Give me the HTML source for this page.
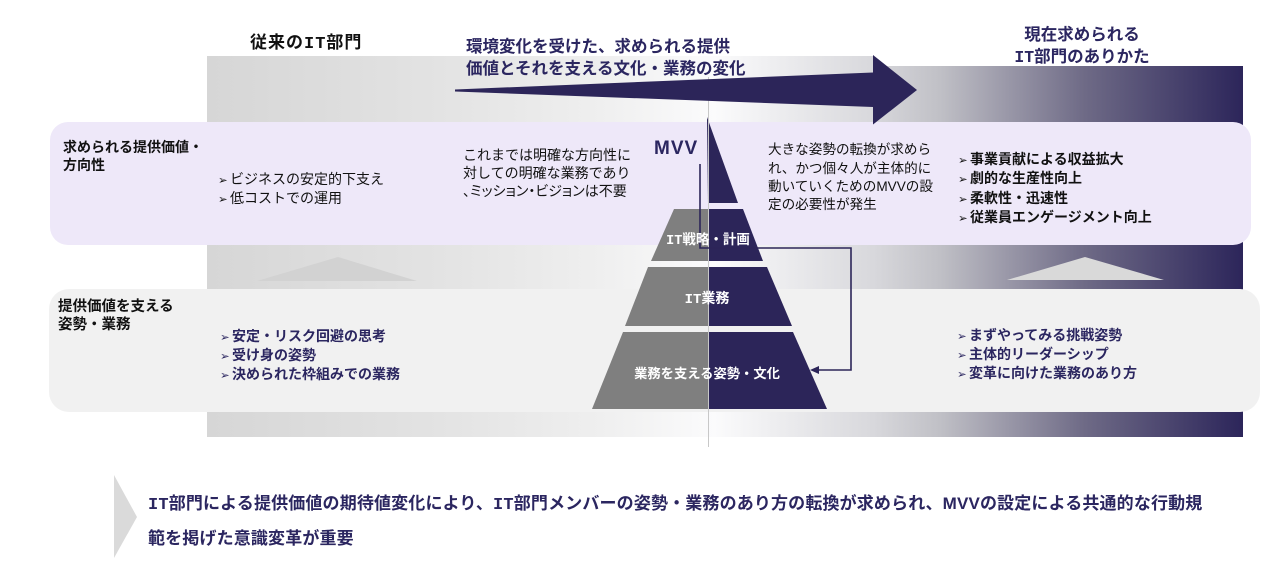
<!DOCTYPE html>
<html><head><meta charset="utf-8">
<style>
html,body{margin:0;padding:0;background:#fff;}
#c{position:relative;width:1280px;height:580px;overflow:hidden;background:#fff;font-family:"Liberation Sans","Noto Sans CJK JP",sans-serif;}
.t{position:absolute;white-space:nowrap;line-height:20px;}
.bd{font-weight:bold;}
.nv{color:#2b2660;}
.bk{color:#111;}
.it{font-family:"Liberation Mono","Noto Sans CJK JP",monospace;}
.ar{display:inline-block;width:12px;font-family:"DejaVu Sans",sans-serif;font-size:11.5px;vertical-align:0px;}
.ctr{text-align:center;}
</style></head>
<body><div id="c">
<svg width="1280" height="580" style="position:absolute;left:0;top:0">
<defs>
<linearGradient id="band" gradientUnits="userSpaceOnUse" x1="207" y1="0" x2="1243" y2="0">
<stop offset="0" stop-color="#d6d6d6"/>
<stop offset="0.225" stop-color="#e3e3e3"/>
<stop offset="0.38" stop-color="#efefef"/>
<stop offset="0.49" stop-color="#fbfbfc"/>
<stop offset="0.643" stop-color="#d8d8dc"/>
<stop offset="0.7075" stop-color="#c0c0c6"/>
<stop offset="0.8475" stop-color="#6e6a86"/>
<stop offset="1" stop-color="#2c255a"/>
</linearGradient>
</defs>
<path d="M207 56 H873 V66 H1243 V437 H207 Z" fill="url(#band)"/>
<polygon points="257,281 338,257 417,281" fill="#d2d2d2"/>
<polygon points="1007,280 1085,257 1164,280" fill="#d9d9d9"/>
<rect x="50" y="122" width="1201" height="123" rx="18" fill="#eee8f9"/>
<rect x="49" y="289" width="1211" height="123" rx="20" fill="#f1f1f1"/>
<polygon points="707,117 738,203 708,203" fill="#2c2559"/>
<polygon points="674,209 708,209 708,261 651,261" fill="#7f7f7f"/>
<polygon points="708,209 743,209 763,261 708,261" fill="#2c2559"/>
<polygon points="648,267 708,267 708,326 625,326" fill="#7f7f7f"/>
<polygon points="708,267 767,267 792,326 708,326" fill="#2c2559"/>
<polygon points="623,332 708,332 708,409 592,409" fill="#7f7f7f"/>
<polygon points="708,332 793,332 827,409 708,409" fill="#2c2559"/>
<line x1="708.5" y1="77" x2="708.5" y2="447" stroke="#c8c8c8" stroke-width="1"/>
<polygon points="455,89.5 873,72.5 873,55 917,90 873,124.5 873,107 455,91.5" fill="#2c2559"/>
<polyline points="700,164 700,248 851,248 851,370 818,370" fill="none" stroke="#2c2559" stroke-width="1.6"/>
<polygon points="810,370 819,366 819,374" fill="#2c2559"/>
<polygon points="114,475 137,517 114,558" fill="#dadada"/>
</svg>

<div class="t bd bk" style="left:250px;top:33px;font-size:17px;letter-spacing:1px;">従来の<span class="it">IT</span>部門</div>

<div class="t bd nv" style="left:466px;top:36.5px;font-size:16.5px;">環境変化を受けた、求められる提供</div>
<div class="t bd nv" style="left:466px;top:58.5px;font-size:16.5px;">価値とそれを支える文化・業務の変化</div>

<div class="t bd nv ctr" style="left:882px;width:400px;top:25px;font-size:16.5px;">現在求められる</div>
<div class="t bd nv ctr" style="left:882px;width:400px;top:47px;font-size:16.5px;"><span class="it">IT</span>部門のありかた</div>

<div class="t bd bk" style="left:63px;top:136.5px;font-size:14px;">求められる提供価値・</div>
<div class="t bd bk" style="left:63px;top:155px;font-size:14px;">方向性</div>

<div class="t bk" style="left:218px;top:169px;font-size:14px;"><span class="ar">➢</span>ビジネスの安定的下支え</div>
<div class="t bk" style="left:218px;top:188px;font-size:14px;"><span class="ar">➢</span>低コストでの運用</div>

<div class="t bk" style="left:463px;top:145px;font-size:14px;">これまでは明確な方向性に</div>
<div class="t bk" style="left:463px;top:163px;font-size:14px;">対しての明確な業務であり</div>
<div class="t bk" style="left:463px;top:181px;font-size:14px;font-feature-settings:'palt';">、ミッション・ビジョンは不要</div>

<div class="t bd nv" style="left:654px;top:139px;font-size:19px;letter-spacing:1px;">MVV</div>

<div class="t bk" style="left:768px;top:140px;font-size:13.6px;">大きな姿勢の転換が求めら</div>
<div class="t bk" style="left:768px;top:158.5px;font-size:13.6px;">れ、かつ個々人が主体的に</div>
<div class="t bk" style="left:768px;top:177px;font-size:13.6px;">動いていくためのMVVの設</div>
<div class="t bk" style="left:768px;top:195px;font-size:13.6px;">定の必要性が発生</div>

<div class="t bd bk" style="left:958px;top:148.5px;font-size:14px;"><span class="ar">➢</span>事業貢献による収益拡大</div>
<div class="t bd bk" style="left:958px;top:168px;font-size:14px;"><span class="ar">➢</span>劇的な生産性向上</div>
<div class="t bd bk" style="left:958px;top:187.5px;font-size:14px;"><span class="ar">➢</span>柔軟性・迅速性</div>
<div class="t bd bk" style="left:958px;top:207px;font-size:14px;"><span class="ar">➢</span>従業員エンゲージメント向上</div>

<div class="t bd" style="left:558px;width:300px;text-align:center;top:230px;font-size:13.5px;color:#fff;"><span class="it">IT</span>戦略・計画</div>
<div class="t bd" style="left:557px;width:300px;text-align:center;top:288px;font-size:14px;color:#fff;"><span class="it">IT</span>業務</div>
<div class="t bd" style="left:557px;width:300px;text-align:center;top:364px;font-size:13.3px;color:#fff;">業務を支える姿勢・文化</div>

<div class="t bd bk" style="left:58px;top:296.5px;font-size:14.5px;">提供価値を支える</div>
<div class="t bd bk" style="left:58px;top:315px;font-size:14.5px;">姿勢・業務</div>

<div class="t bd nv" style="left:220px;top:326px;font-size:14px;"><span class="ar">➢</span>安定・リスク回避の思考</div>
<div class="t bd nv" style="left:220px;top:345px;font-size:14px;"><span class="ar">➢</span>受け身の姿勢</div>
<div class="t bd nv" style="left:220px;top:363.5px;font-size:14px;"><span class="ar">➢</span>決められた枠組みでの業務</div>

<div class="t bd nv" style="left:957px;top:325px;font-size:14px;"><span class="ar">➢</span>まずやってみる挑戦姿勢</div>
<div class="t bd nv" style="left:957px;top:344px;font-size:14px;"><span class="ar">➢</span>主体的リーダーシップ</div>
<div class="t bd nv" style="left:957px;top:363px;font-size:14px;"><span class="ar">➢</span>変革に向けた業務のあり方</div>

<div class="t bd nv" style="left:148px;top:493.5px;font-size:17px;letter-spacing:0.15px;"><span class="it">IT</span>部門による提供価値の期待値変化により、<span class="it">IT</span>部門メンバーの姿勢・業務のあり方の転換が求められ、MVVの設定による共通的な行動規</div>
<div class="t bd nv" style="left:148px;top:529px;font-size:17px;letter-spacing:0.15px;">範を掲げた意識変革が重要</div>
</div></body></html>
